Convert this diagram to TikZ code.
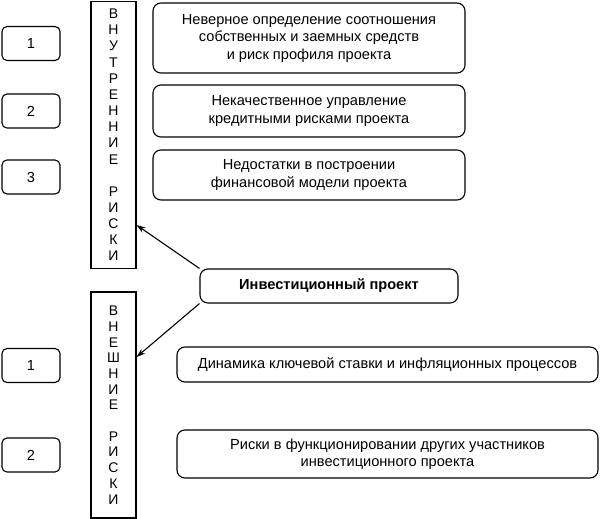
\documentclass[tikz,border=0pt]{standalone}
\usepackage{fontspec}
\setmainfont{Liberation Sans}
\usetikzlibrary{arrows.meta,positioning}

\begin{document}
\begin{tikzpicture}[
      x=1pt, y=-1pt,
      numbox/.style={draw, rounded corners=5pt, minimum width=58pt, minimum height=34pt, inner sep=0pt},
      riskbox/.style={draw, rounded corners=8pt, align=center, inner sep=0pt},
      sidebox/.style={draw, minimum width=45pt, align=center, inner sep=0pt},
      every node/.style={font=\fontsize{14.6}{17.5}\selectfont},
      line width=1.1pt
    ]
    \useasboundingbox (0,0) rectangle (600,519);
    % internal risks
    \node[sidebox, minimum height=267pt, font=\fontsize{14}{16.15}\selectfont] (inner) at (113.5,135)
      {В\\Н\\У\\Т\\Р\\Е\\Н\\Н\\И\\Е\\[16.15pt]Р\\И\\С\\К\\И};
    \node[numbox] (n1) at (31,43.5) {1};
    \node[numbox] (n2) at (31,111) {2};
    \node[numbox] (n3) at (31,177) {3};
    \node[riskbox, minimum width=312pt, minimum height=70pt] (r1) at (309,38)
      {Неверное определение соотношения\\собственных и заемных средств\\и риск профиля проекта};
    \node[riskbox, minimum width=312pt, minimum height=52pt] (r2) at (309,111)
      {Некачественное управление\\кредитными рисками проекта};
    \node[riskbox, minimum width=312pt, minimum height=50pt] (r3) at (309,175)
      {Недостатки в построении\\финансовой модели проекта};
    % project
    \node[riskbox, minimum width=258pt, minimum height=34pt, font=\fontsize{14.6}{17.5}\selectfont\bfseries] (proj) at (329,286)
      {Инвестиционный проект};
    % external risks
    \node[sidebox, minimum height=226pt, font=\fontsize{14}{15.7}\selectfont] (outer) at (113.5,405)
      {В\\Н\\Е\\Ш\\Н\\И\\Е\\[15.7pt]Р\\И\\С\\К\\И};
    \node[numbox] (m1) at (31,365.5) {1};
    \node[numbox] (m2) at (31,455) {2};
    \node[riskbox, minimum width=421pt, minimum height=35pt] (e1) at (387.5,364.5)
      {Динамика ключевой ставки и инфляционных процессов};
    \node[riskbox, minimum width=421pt, minimum height=48pt] (e2) at (387.5,454)
      {Риски в функционировании других участников\\инвестиционного проекта};
    % arrows
    \draw[-{Stealth[length=9pt,width=6pt]}] (proj.north west) -- (inner.east |- 0,225);
    \draw[-{Stealth[length=9pt,width=6pt]}] (proj.south west) -- (outer.east |- 0,357);
  \end{tikzpicture}
\end{document}
